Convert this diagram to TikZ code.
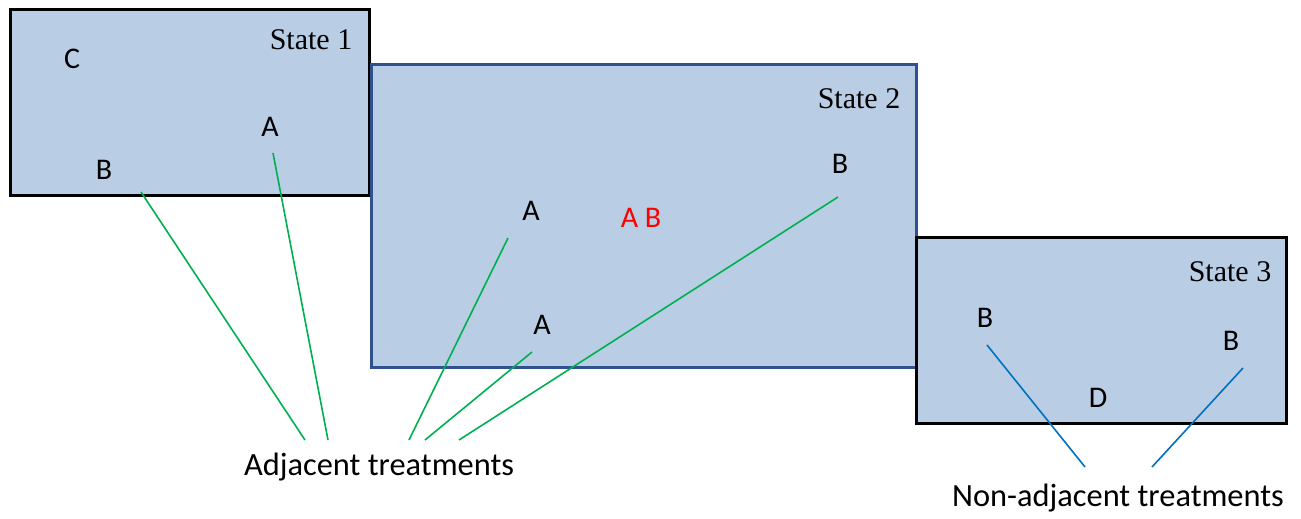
\documentclass[tikz,border=0pt]{standalone}
\usepackage{fontspec}
\setmainfont{Carlito}
\newfontfamily\statefont{Liberation Serif}
\usepackage{tikz}
\usetikzlibrary{calc}

\definecolor{boxfill}{HTML}{B9CDE5}
\definecolor{boxblue}{HTML}{2F528F}
\definecolor{adjgreen}{HTML}{00B050}
\definecolor{nonblue}{HTML}{0070C0}

\tikzset{
  statebox/.style={fill=boxfill,draw=black,line width=1.5pt},
  statelbl/.style={font=\statefont\fontsize{15}{17}\selectfont,inner sep=0pt},
  trt/.style={font=\fontsize{15}{17}\selectfont,inner sep=0pt},
  caption/.style={font=\fontsize{16.2}{19}\selectfont,inner sep=0pt},
  adjline/.style={draw=adjgreen,line width=0.8pt},
  nonline/.style={draw=nonblue,line width=0.8pt}
}

\begin{document}
\begin{tikzpicture}[x=0.5pt,y=-0.5pt]
            \useasboundingbox (0,0) rectangle (1301,519);
            \draw[statebox] (10,10) rectangle (369,195);
            \draw[statebox,draw=boxblue] (371,65) rectangle (916,367);
            \draw[statebox] (916,237) rectangle (1286,423);

            \node[statelbl] (s1) at (311,40){State 1};
            \node[statelbl] (s2) at (859,99){State 2};
            \node[statelbl] (s3) at (1230,272){State 3};

            \node[trt] (c1) at (72,59){C};
            \node[trt] (a1) at (270,127){A};
            \node[trt] (b1) at (104,170){B};
            \node[trt] (b2) at (840,164){B};
            \node[trt] (a2) at (531,211){A};
            \node[trt,text=red] (ab) at (641,218){A B};
            \node[trt] (a3) at (542,325){A};
            \node[trt] (b3) at (985,318){B};
            \node[trt] (b4) at (1231,341){B};
            \node[trt] (d3) at (1098,398){D};

            \node[caption] (adj) at (379,467){Adjacent treatments};
            \node[caption] (non) at (1118,498){Non-adjacent treatments};

            \coordinate (b1e) at (141,192);
            \coordinate (a1e) at (273,153);
            \coordinate (a2e) at (508,238);
            \coordinate (a3e) at (532,352);
            \coordinate (b2e) at (838,197);
            \coordinate (b3e) at (987,345);
            \coordinate (b4e) at (1243,368);
            \coordinate (adj1) at (305,440);
            \coordinate (adj2) at (328,440);
            \coordinate (adj3) at (409,440);
            \coordinate (adj4) at (425,440);
            \coordinate (adj5) at (459,440);
            \coordinate (non1) at (1085,467);
            \coordinate (non2) at (1152,467);

            \draw[adjline] (b1e) -- (adj1);
            \draw[adjline] (a1e) -- (adj2);
            \draw[adjline] (a2e) -- (adj3);
            \draw[adjline] (a3e) -- (adj4);
            \draw[adjline] (b2e) -- (adj5);
            \draw[nonline] (b3e) -- (non1);
            \draw[nonline] (b4e) -- (non2);
          \end{tikzpicture}
\end{document}
